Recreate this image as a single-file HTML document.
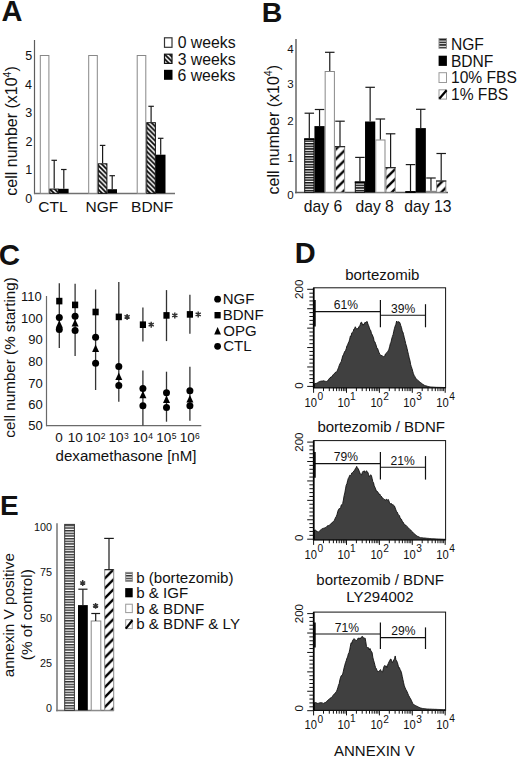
<!DOCTYPE html>
<html><head><meta charset="utf-8"><style>
html,body{margin:0;padding:0;background:#fff;}
svg{display:block;font-family:"Liberation Sans", sans-serif;}
</style></head><body>
<svg width="520" height="759" viewBox="0 0 520 759">
<rect width="520" height="759" fill="#fff"/>
<defs>
<pattern id="hA" patternUnits="userSpaceOnUse" width="4.8" height="4.8" patternTransform="rotate(0)">
<rect width="4.8" height="4.8" fill="#fff"/>
<path d="M-1.2,-1.2 L6,6 M-1.2,3.6 L1.2,6 M3.6,-1.2 L6,1.2" stroke="#000" stroke-width="1.8"/>
</pattern>
<pattern id="dB" patternUnits="userSpaceOnUse" width="9.9" height="9.9">
<rect width="9.9" height="9.9" fill="#fff"/>
<path d="M-2,11.9 L11.9,-2 M-2,2 L2,-2 M7.9,11.9 L11.9,7.9" stroke="#000" stroke-width="2.3"/>
</pattern>
<pattern id="hs" patternUnits="userSpaceOnUse" width="10" height="2.6">
<rect width="10" height="2.6" fill="#fff"/>
<rect y="0" width="10" height="1.5" fill="#111"/>
</pattern>
<pattern id="hsE" patternUnits="userSpaceOnUse" width="10" height="2.65">
<rect width="10" height="2.65" fill="#fff"/>
<rect y="0" width="10" height="1.45" fill="#333"/>
</pattern>
</defs>
<text x="1.6" y="20.8" font-size="29" font-weight="bold" fill="#111">A</text>
<line x1="34.5" y1="40" x2="34.5" y2="194.1" stroke="#5c5c5c" stroke-width="1.2"/>
<line x1="34" y1="193.5" x2="175" y2="193.5" stroke="#707070" stroke-width="1.3"/>
<text x="25.27" y="60.24" font-size="12.5" fill="#111">5</text>
<text x="25.11" y="88.75" font-size="12.5" fill="#111">4</text>
<text x="25.3" y="117.2" font-size="12.5" fill="#111">3</text>
<text x="25.38" y="145.71" font-size="12.5" fill="#111">2</text>
<text x="25.36" y="174.1" font-size="12.5" fill="#111">1</text>
<text x="25.24" y="202.55" font-size="12.5" fill="#111">0</text>
<rect x="40.3" y="55.5" width="8.6" height="137.8" fill="#fff" stroke="#888" stroke-width="1"/>
<rect x="49.9" y="189.1" width="8.6" height="4.2" fill="url(#hA)" stroke="#111" stroke-width="1"/>
<line x1="54.2" y1="188.6" x2="54.2" y2="160.3" stroke="#1a1a1a" stroke-width="1.2"/>
<line x1="51.45" y1="160.3" x2="56.95" y2="160.3" stroke="#1a1a1a" stroke-width="1.2"/>
<rect x="59" y="188.8" width="9.6" height="4.5" fill="#000"/>
<line x1="63.8" y1="188.8" x2="63.8" y2="169.5" stroke="#1a1a1a" stroke-width="1.2"/>
<line x1="61.05" y1="169.5" x2="66.55" y2="169.5" stroke="#1a1a1a" stroke-width="1.2"/>
<rect x="88.7" y="55.5" width="8.6" height="137.8" fill="#fff" stroke="#888" stroke-width="1"/>
<rect x="98.3" y="163.8" width="8.6" height="29.5" fill="url(#hA)" stroke="#111" stroke-width="1"/>
<line x1="102.6" y1="163.3" x2="102.6" y2="145.4" stroke="#1a1a1a" stroke-width="1.2"/>
<line x1="99.85" y1="145.4" x2="105.35" y2="145.4" stroke="#1a1a1a" stroke-width="1.2"/>
<rect x="107.4" y="189.2" width="9.6" height="4.1" fill="#000"/>
<line x1="112.2" y1="189.2" x2="112.2" y2="175.7" stroke="#1a1a1a" stroke-width="1.2"/>
<line x1="109.45" y1="175.7" x2="114.95" y2="175.7" stroke="#1a1a1a" stroke-width="1.2"/>
<rect x="137.2" y="55.5" width="8.6" height="137.8" fill="#fff" stroke="#888" stroke-width="1"/>
<rect x="146.8" y="122.7" width="8.6" height="70.6" fill="url(#hA)" stroke="#111" stroke-width="1"/>
<line x1="151.1" y1="122.2" x2="151.1" y2="106.3" stroke="#1a1a1a" stroke-width="1.2"/>
<line x1="148.35" y1="106.3" x2="153.85" y2="106.3" stroke="#1a1a1a" stroke-width="1.2"/>
<rect x="155.9" y="154.7" width="9.6" height="38.6" fill="#000"/>
<line x1="160.7" y1="154.7" x2="160.7" y2="138.3" stroke="#1a1a1a" stroke-width="1.2"/>
<line x1="157.95" y1="138.3" x2="163.45" y2="138.3" stroke="#1a1a1a" stroke-width="1.2"/>
<text x="38.32" y="211.85" font-size="15.5" fill="#111">CTL</text>
<text x="85.62" y="211.85" font-size="15.5" fill="#111">NGF</text>
<text x="131.08" y="212" font-size="15.5" fill="#111">BDNF</text>
<rect x="164.5" y="37.8" width="7.5" height="9.5" fill="#fff" stroke="#333" stroke-width="1.2"/>
<rect x="164.5" y="54.2" width="7.5" height="9.2" fill="url(#hA)" stroke="#111" stroke-width="1.2"/>
<rect x="164" y="69.8" width="8.5" height="10" fill="#000"/>
<text x="177.68" y="48.15" font-size="15.8" fill="#111">0 weeks</text>
<text x="177.7" y="64.75" font-size="15.8" fill="#111">3 weeks</text>
<text x="177.5" y="81.15" font-size="15.8" fill="#111">6 weeks</text>
<text transform="translate(17.3,195.68) rotate(-90)" font-size="16" fill="#111">cell number (x10<tspan dy="-6.3" font-size="10.5">4</tspan><tspan dy="6.3">)</tspan></text>
<text x="261.85" y="21.6" font-size="28.5" font-weight="bold" fill="#111">B</text>
<line x1="296" y1="39" x2="296" y2="193.3" stroke="#8c8c8c" stroke-width="2"/>
<line x1="295" y1="192.5" x2="448" y2="192.5" stroke="#5a5a5a" stroke-width="1.3"/>
<text x="293.6" y="52.9" font-size="11.5" text-anchor="end" fill="#111">4</text>
<text x="293.6" y="88.3" font-size="11.5" text-anchor="end" fill="#111">3</text>
<text x="293.6" y="125.1" font-size="11.5" text-anchor="end" fill="#111">2</text>
<text x="293.6" y="162" font-size="11.5" text-anchor="end" fill="#111">1</text>
<text x="293.6" y="198.8" font-size="11.5" text-anchor="end" fill="#111">0</text>
<rect x="304.7" y="138.9" width="9.23" height="53.4" fill="url(#hs)" stroke="#111" stroke-width="1"/>
<line x1="304.2" y1="139.2" x2="314.43" y2="139.2" stroke="#000" stroke-width="1.6"/>
<line x1="309.31" y1="138.4" x2="309.31" y2="113.2" stroke="#1a1a1a" stroke-width="1.2"/>
<line x1="304.56" y1="113.2" x2="314.06" y2="113.2" stroke="#1a1a1a" stroke-width="1.2"/>
<rect x="314.43" y="126.1" width="10.23" height="66.2" fill="#000"/>
<line x1="319.55" y1="126.1" x2="319.55" y2="109.5" stroke="#1a1a1a" stroke-width="1.2"/>
<line x1="314.8" y1="109.5" x2="324.3" y2="109.5" stroke="#1a1a1a" stroke-width="1.2"/>
<rect x="325.16" y="71.5" width="9.23" height="120.8" fill="#fff" stroke="#888" stroke-width="1"/>
<line x1="329.77" y1="71" x2="329.77" y2="52.3" stroke="#1a1a1a" stroke-width="1.2"/>
<line x1="325.02" y1="52.3" x2="334.52" y2="52.3" stroke="#1a1a1a" stroke-width="1.2"/>
<rect x="335.39" y="146.7" width="9.23" height="45.6" fill="url(#dB)" stroke="#888" stroke-width="1"/>
<line x1="334.89" y1="146.7" x2="345.12" y2="146.7" stroke="#111" stroke-width="1"/>
<line x1="340" y1="146.2" x2="340" y2="121.2" stroke="#1a1a1a" stroke-width="1.2"/>
<line x1="335.25" y1="121.2" x2="344.75" y2="121.2" stroke="#1a1a1a" stroke-width="1.2"/>
<rect x="355.3" y="182" width="9.23" height="10.3" fill="url(#hs)" stroke="#111" stroke-width="1"/>
<line x1="354.8" y1="182.3" x2="365.03" y2="182.3" stroke="#000" stroke-width="1.6"/>
<line x1="359.92" y1="181.5" x2="359.92" y2="157.4" stroke="#1a1a1a" stroke-width="1.2"/>
<line x1="355.17" y1="157.4" x2="364.67" y2="157.4" stroke="#1a1a1a" stroke-width="1.2"/>
<rect x="365.03" y="121.5" width="10.23" height="70.8" fill="#000"/>
<line x1="370.15" y1="121.5" x2="370.15" y2="87.3" stroke="#1a1a1a" stroke-width="1.2"/>
<line x1="365.4" y1="87.3" x2="374.9" y2="87.3" stroke="#1a1a1a" stroke-width="1.2"/>
<rect x="375.76" y="140" width="9.23" height="52.3" fill="#fff" stroke="#888" stroke-width="1"/>
<line x1="380.38" y1="139.5" x2="380.38" y2="119" stroke="#1a1a1a" stroke-width="1.2"/>
<line x1="375.62" y1="119" x2="385.12" y2="119" stroke="#1a1a1a" stroke-width="1.2"/>
<rect x="385.99" y="167.7" width="9.23" height="24.6" fill="url(#dB)" stroke="#888" stroke-width="1"/>
<line x1="385.49" y1="167.7" x2="395.72" y2="167.7" stroke="#111" stroke-width="1"/>
<line x1="390.61" y1="167.2" x2="390.61" y2="133.8" stroke="#1a1a1a" stroke-width="1.2"/>
<line x1="385.86" y1="133.8" x2="395.36" y2="133.8" stroke="#1a1a1a" stroke-width="1.2"/>
<rect x="405.9" y="191.7" width="9.23" height="0.6" fill="url(#hs)" stroke="#111" stroke-width="1"/>
<line x1="405.4" y1="192" x2="415.63" y2="192" stroke="#000" stroke-width="1.6"/>
<line x1="410.51" y1="191.2" x2="410.51" y2="164.6" stroke="#1a1a1a" stroke-width="1.2"/>
<line x1="405.76" y1="164.6" x2="415.26" y2="164.6" stroke="#1a1a1a" stroke-width="1.2"/>
<rect x="415.63" y="128.1" width="10.23" height="64.2" fill="#000"/>
<line x1="420.75" y1="128.1" x2="420.75" y2="109.3" stroke="#1a1a1a" stroke-width="1.2"/>
<line x1="416" y1="109.3" x2="425.5" y2="109.3" stroke="#1a1a1a" stroke-width="1.2"/>
<rect x="426.36" y="191.3" width="9.23" height="1" fill="#fff" stroke="#888" stroke-width="1"/>
<line x1="430.97" y1="190.8" x2="430.97" y2="178" stroke="#1a1a1a" stroke-width="1.2"/>
<line x1="426.22" y1="178" x2="435.72" y2="178" stroke="#1a1a1a" stroke-width="1.2"/>
<rect x="436.59" y="181" width="9.23" height="11.3" fill="url(#dB)" stroke="#888" stroke-width="1"/>
<line x1="436.09" y1="181" x2="446.32" y2="181" stroke="#111" stroke-width="1"/>
<line x1="441.2" y1="180.5" x2="441.2" y2="153.5" stroke="#1a1a1a" stroke-width="1.2"/>
<line x1="436.45" y1="153.5" x2="445.95" y2="153.5" stroke="#1a1a1a" stroke-width="1.2"/>
<text x="303.86" y="211.9" font-size="15.7" fill="#111">day 6</text>
<text x="355.46" y="211.9" font-size="15.7" fill="#111">day 8</text>
<text x="404.3" y="211.9" font-size="15.7" fill="#111">day 13</text>
<rect x="439" y="38.6" width="7.5" height="9.6" fill="url(#hs)" stroke="#888" stroke-width="1"/>
<rect x="438.6" y="55.7" width="8.3" height="10.2" fill="#000"/>
<rect x="439" y="72.7" width="7.5" height="9.8" fill="#fff" stroke="#999" stroke-width="1"/>
<rect x="439" y="89.8" width="7.5" height="9.3" fill="#fff" stroke="#999" stroke-width="1"/>
<line x1="439.3" y1="98.8" x2="446.6" y2="90.2" stroke="#000" stroke-width="2.2"/>
<text x="450.92" y="50.05" font-size="15.6" fill="#111">NGF</text>
<text x="450.92" y="66.9" font-size="15.6" fill="#111">BDNF</text>
<text x="451.01" y="83.25" font-size="15.6" fill="#111">10% FBS</text>
<text x="451.01" y="100.25" font-size="15.6" fill="#111">1% FBS</text>
<text transform="translate(278.7,194.48) rotate(-90)" font-size="16" fill="#111">cell number (x10<tspan dy="-6.3" font-size="10.5">4</tspan><tspan dy="6.3">)</tspan></text>
<text x="-1.25" y="264.81" font-size="29.5" font-weight="bold" fill="#111">C</text>
<line x1="46.5" y1="296" x2="46.5" y2="426.2" stroke="#6a6a6a" stroke-width="1.2"/>
<line x1="46" y1="425.6" x2="201.3" y2="425.6" stroke="#6a6a6a" stroke-width="1.2"/>
<text x="21.02" y="301.38" font-size="13" fill="#111">110</text>
<text x="21.02" y="322.68" font-size="13" fill="#111">100</text>
<text x="28.25" y="343.98" font-size="13" fill="#111">90</text>
<text x="28.25" y="366.38" font-size="13" fill="#111">80</text>
<text x="28.25" y="387.68" font-size="13" fill="#111">70</text>
<text x="28.25" y="408.98" font-size="13" fill="#111">60</text>
<text x="28.25" y="430.28" font-size="13" fill="#111">50</text>
<line x1="59.3" y1="283.2" x2="59.3" y2="347.9" stroke="#333" stroke-width="1.3"/>
<rect x="56.2" y="297.8" width="6.2" height="6.6" fill="#000"/>
<circle cx="59.3" cy="317.5" r="3.5" fill="#000"/>
<path d="M59.3,320.2 L62.8,327.7 L55.8,327.7 Z" fill="#000"/>
<circle cx="59.3" cy="329.5" r="3.5" fill="#000"/>
<line x1="75.1" y1="283.8" x2="75.1" y2="355.9" stroke="#333" stroke-width="1.3"/>
<rect x="72" y="301.6" width="6.2" height="6.6" fill="#000"/>
<circle cx="75.1" cy="316.3" r="3.5" fill="#000"/>
<path d="M75.1,319.1 L78.6,326.6 L71.6,326.6 Z" fill="#000"/>
<circle cx="75.1" cy="330.6" r="3.5" fill="#000"/>
<line x1="95.6" y1="289.5" x2="95.6" y2="390" stroke="#333" stroke-width="1.3"/>
<rect x="92.5" y="308.7" width="6.2" height="6.6" fill="#000"/>
<circle cx="95.6" cy="337.3" r="3.5" fill="#000"/>
<path d="M95.6,344.4 L99.1,351.9 L92.1,351.9 Z" fill="#000"/>
<circle cx="95.6" cy="363.3" r="3.5" fill="#000"/>
<line x1="118.8" y1="282.1" x2="118.8" y2="401.8" stroke="#333" stroke-width="1.3"/>
<rect x="115.7" y="313.6" width="6.2" height="6.6" fill="#000"/>
<path d="M127.1,313.9V319.9M124.5,315.4L129.7,318.4M124.5,318.4L129.7,315.4" stroke="#333" stroke-width="1.45" fill="none"/>
<circle cx="118.8" cy="366.4" r="3.5" fill="#000"/>
<path d="M118.8,372.4 L122.3,379.9 L115.3,379.9 Z" fill="#000"/>
<circle cx="118.8" cy="385.4" r="3.5" fill="#000"/>
<line x1="142.9" y1="307.4" x2="142.9" y2="341.6" stroke="#333" stroke-width="1.3"/>
<line x1="142.9" y1="370.6" x2="142.9" y2="425.4" stroke="#333" stroke-width="1.3"/>
<rect x="139.8" y="321.4" width="6.2" height="6.6" fill="#000"/>
<path d="M151.2,321.7V327.7M148.6,323.2L153.8,326.2M148.6,326.2L153.8,323.2" stroke="#333" stroke-width="1.45" fill="none"/>
<circle cx="142.9" cy="388.6" r="3.5" fill="#000"/>
<path d="M142.9,390.8 L146.4,398.3 L139.4,398.3 Z" fill="#000"/>
<circle cx="142.9" cy="405.8" r="3.5" fill="#000"/>
<line x1="166.5" y1="290.1" x2="166.5" y2="341.1" stroke="#333" stroke-width="1.3"/>
<line x1="166.5" y1="371.7" x2="166.5" y2="421.7" stroke="#333" stroke-width="1.3"/>
<rect x="163.4" y="312.1" width="6.2" height="6.6" fill="#000"/>
<path d="M174.8,312.4V318.4M172.2,313.9L177.4,316.9M172.2,316.9L177.4,313.9" stroke="#333" stroke-width="1.45" fill="none"/>
<circle cx="166.5" cy="392.8" r="3.5" fill="#000"/>
<path d="M166.5,395.6 L170,403.1 L163,403.1 Z" fill="#000"/>
<circle cx="166.5" cy="407.5" r="3.5" fill="#000"/>
<line x1="189.9" y1="294.8" x2="189.9" y2="333.8" stroke="#333" stroke-width="1.3"/>
<line x1="189.9" y1="366.8" x2="189.9" y2="420.8" stroke="#333" stroke-width="1.3"/>
<rect x="186.8" y="311.1" width="6.2" height="6.6" fill="#000"/>
<path d="M198.2,311.4V317.4M195.6,312.9L200.8,315.9M195.6,315.9L200.8,312.9" stroke="#333" stroke-width="1.45" fill="none"/>
<circle cx="189.9" cy="390.7" r="3.5" fill="#000"/>
<path d="M189.9,395 L193.4,402.5 L186.4,402.5 Z" fill="#000"/>
<circle cx="189.9" cy="405.8" r="3.5" fill="#000"/>
<text x="55.35" y="442.07" font-size="13.5" fill="#111">0</text>
<text x="67.64" y="442.07" font-size="13.5" fill="#111">10</text>
<text x="85.41" y="442.07" font-size="13.5" fill="#111">10</text>
<text x="100.67" y="439.24" font-size="8.5" fill="#111">2</text>
<text x="108.61" y="442.07" font-size="13.5" fill="#111">10</text>
<text x="123.98" y="439.24" font-size="8.5" fill="#111">3</text>
<text x="132.71" y="442.07" font-size="13.5" fill="#111">10</text>
<text x="148.2" y="439.15" font-size="8.5" fill="#111">4</text>
<text x="156.31" y="442.07" font-size="13.5" fill="#111">10</text>
<text x="171.66" y="439.15" font-size="8.5" fill="#111">5</text>
<text x="179.71" y="442.07" font-size="13.5" fill="#111">10</text>
<text x="194.97" y="439.24" font-size="8.5" fill="#111">6</text>
<text x="55.57" y="460.6" font-size="15.1" fill="#111">dexamethasone [nM]</text>
<circle cx="217.6" cy="299.2" r="3.4" fill="#000"/>
<rect x="214.5" y="312" width="6.2" height="6.4" fill="#000"/>
<path d="M217.6,327.1 L221,334.6 L214.2,334.6 Z" fill="#000"/>
<circle cx="217.6" cy="346.3" r="3.4" fill="#000"/>
<text x="222.77" y="304.36" font-size="15" fill="#111">NGF</text>
<text x="222.77" y="320.36" font-size="15" fill="#111">BDNF</text>
<text x="223.29" y="336.16" font-size="15" fill="#111">OPG</text>
<text x="223.24" y="351.46" font-size="15" fill="#111">CTL</text>
<text transform="translate(15.3,437.65) rotate(-90)" font-size="15.2" fill="#111">cell number (% starting)</text>
<text x="294.82" y="262.7" font-size="29" font-weight="bold" fill="#111">D</text>
<path d="M314.5,387.8 L314.5,383.6 L316.1,383.56 L316.8,383.08 L317.5,382.8 L318.2,382.19 L318.9,381.92 L319.6,381.52 L320.3,381.28 L321,381.33 L321.7,381.02 L322.4,381.06 L323.1,380.79 L323.8,380.8 L324.5,381.08 L325.2,381.39 L325.9,381.26 L326.6,381.45 L327.3,381.04 L328,380.34 L328.7,379.32 L329.4,378.36 L330.1,378.12 L330.8,377 L331.5,376.98 L332.2,376.05 L332.9,375.08 L333.6,374.18 L334.3,373.47 L335,373.11 L335.7,372.04 L336.4,371.93 L337.1,371.17 L337.8,369.24 L338.5,367.8 L339.2,365.56 L339.9,363.95 L340.6,362.56 L341.3,361.38 L342,358.62 L342.7,356.05 L343.4,354.75 L344.1,353.05 L344.8,351.28 L345.5,350.73 L346.2,348.79 L346.9,345.97 L347.6,345.03 L348.3,342.86 L349,341.6 L349.7,339.15 L350.4,335.99 L351.1,336.28 L351.8,332.84 L352.5,332.18 L353.2,331.65 L353.9,329 L354.6,328.62 L355.3,326.75 L356,328.44 L356.7,328.85 L357.4,328.57 L358.1,329 L358.8,326.7 L359.5,326.67 L360.2,324.76 L360.9,322.52 L361.6,322.24 L362.3,324.06 L363,325.21 L363.7,324.01 L364.4,324.01 L365.1,322.11 L365.8,322.77 L366.5,321.7 L367.2,321.58 L367.9,324.08 L368.6,325.54 L369.3,327.58 L370,330.06 L370.7,330.32 L371.4,333.23 L372.1,334.38 L372.8,336.12 L373.5,337.87 L374.2,341.46 L374.9,341.75 L375.6,343.78 L376.3,345.86 L377,348.75 L377.7,348.55 L378.4,351.01 L379.1,352.72 L379.8,354.21 L380.5,354.87 L381.2,355.73 L381.9,355.32 L382.6,356.32 L383.3,356.54 L384,356.83 L384.7,356.29 L385.4,354.01 L386.1,353.34 L386.8,352.75 L387.5,351.9 L388.2,350.76 L388.9,349.34 L389.6,346.78 L390.3,343.71 L391,342.17 L391.7,339.02 L392.4,336.46 L393.1,334.59 L393.8,331.16 L394.5,328.24 L395.2,325.98 L395.9,324.32 L396.6,321.03 L397.3,322.41 L398,321.47 L398.7,321.9 L399.4,322.06 L400.1,323.28 L400.8,325.8 L401.5,327.48 L402.2,331.12 L402.9,332.11 L403.6,334.78 L404.3,337.82 L405,340.42 L405.7,343.66 L406.4,345.84 L407.1,348.64 L407.8,351.89 L408.5,354.68 L409.2,358.05 L409.9,360.29 L410.6,364.33 L411.3,366.67 L412,368.66 L412.7,371.18 L413.4,373.66 L414.1,375.37 L414.8,376.38 L415.5,378.01 L416.2,378.97 L416.9,379.38 L417.6,380.09 L418.3,380.63 L419,381.27 L419.7,381.89 L420.4,382.4 L421.1,383.09 L421.8,383.43 L422.5,383.92 L423.2,384.62 L423.9,385.04 L424.6,385.41 L425.3,385.66 L426,385.8 L426.7,386.06 L427.4,386.29 L428.1,386.45 L428.8,386.6 L429.5,386.74 L430.2,386.9 L430.9,386.94 L431.6,387.02 L432.3,387.06 L433,387.12 L433.7,387.15 L434.4,387.19 L435.1,387.26 L435.8,387.31 L436.5,387.33 L437.2,387.34 L437.9,387.36 L438.6,387.37 L439.3,387.38 L440,387.4 L440.7,387.42 L441.4,387.43 L442.1,387.44 L442.8,387.47 L443.5,387.48 L445.1,387.5 L445.1,387.8 Z" fill="#404040" stroke="#111" stroke-width="0.9" stroke-linejoin="bevel"/>
<rect x="313.7" y="287.8" width="131.9" height="100" fill="none" stroke="#111" stroke-width="1"/>
<line x1="313.7" y1="287.8" x2="313.7" y2="388.3" stroke="#000" stroke-width="1.7"/>
<line x1="307.2" y1="289.3" x2="313.7" y2="289.3" stroke="#111" stroke-width="1"/>
<line x1="309.4" y1="293.18" x2="313.7" y2="293.18" stroke="#111" stroke-width="1"/>
<line x1="309.4" y1="297.07" x2="313.7" y2="297.07" stroke="#111" stroke-width="1"/>
<line x1="309.4" y1="300.95" x2="313.7" y2="300.95" stroke="#111" stroke-width="1"/>
<line x1="309.4" y1="304.84" x2="313.7" y2="304.84" stroke="#111" stroke-width="1"/>
<line x1="307.2" y1="308.72" x2="313.7" y2="308.72" stroke="#111" stroke-width="1"/>
<line x1="309.4" y1="312.6" x2="313.7" y2="312.6" stroke="#111" stroke-width="1"/>
<line x1="309.4" y1="316.49" x2="313.7" y2="316.49" stroke="#111" stroke-width="1"/>
<line x1="309.4" y1="320.37" x2="313.7" y2="320.37" stroke="#111" stroke-width="1"/>
<line x1="309.4" y1="324.26" x2="313.7" y2="324.26" stroke="#111" stroke-width="1"/>
<line x1="307.2" y1="328.14" x2="313.7" y2="328.14" stroke="#111" stroke-width="1"/>
<line x1="309.4" y1="332.02" x2="313.7" y2="332.02" stroke="#111" stroke-width="1"/>
<line x1="309.4" y1="335.91" x2="313.7" y2="335.91" stroke="#111" stroke-width="1"/>
<line x1="309.4" y1="339.79" x2="313.7" y2="339.79" stroke="#111" stroke-width="1"/>
<line x1="309.4" y1="343.68" x2="313.7" y2="343.68" stroke="#111" stroke-width="1"/>
<line x1="307.2" y1="347.56" x2="313.7" y2="347.56" stroke="#111" stroke-width="1"/>
<line x1="309.4" y1="351.44" x2="313.7" y2="351.44" stroke="#111" stroke-width="1"/>
<line x1="309.4" y1="355.33" x2="313.7" y2="355.33" stroke="#111" stroke-width="1"/>
<line x1="309.4" y1="359.21" x2="313.7" y2="359.21" stroke="#111" stroke-width="1"/>
<line x1="309.4" y1="363.1" x2="313.7" y2="363.1" stroke="#111" stroke-width="1"/>
<line x1="307.2" y1="366.98" x2="313.7" y2="366.98" stroke="#111" stroke-width="1"/>
<line x1="309.4" y1="370.86" x2="313.7" y2="370.86" stroke="#111" stroke-width="1"/>
<line x1="309.4" y1="374.75" x2="313.7" y2="374.75" stroke="#111" stroke-width="1"/>
<line x1="309.4" y1="378.63" x2="313.7" y2="378.63" stroke="#111" stroke-width="1"/>
<line x1="309.4" y1="382.52" x2="313.7" y2="382.52" stroke="#111" stroke-width="1"/>
<line x1="307.2" y1="386.4" x2="313.7" y2="386.4" stroke="#111" stroke-width="1"/>
<line x1="313.6" y1="387.8" x2="313.6" y2="392.8" stroke="#111" stroke-width="1"/>
<line x1="323.5" y1="387.8" x2="323.5" y2="391.1" stroke="#111" stroke-width="1"/>
<line x1="329.3" y1="387.8" x2="329.3" y2="391.1" stroke="#111" stroke-width="1"/>
<line x1="333.41" y1="387.8" x2="333.41" y2="391.1" stroke="#111" stroke-width="1"/>
<line x1="336.6" y1="387.8" x2="336.6" y2="391.1" stroke="#111" stroke-width="1"/>
<line x1="339.2" y1="387.8" x2="339.2" y2="391.1" stroke="#111" stroke-width="1"/>
<line x1="341.4" y1="387.8" x2="341.4" y2="391.1" stroke="#111" stroke-width="1"/>
<line x1="343.31" y1="387.8" x2="343.31" y2="391.1" stroke="#111" stroke-width="1"/>
<line x1="344.99" y1="387.8" x2="344.99" y2="391.1" stroke="#111" stroke-width="1"/>
<text transform="translate(304.58,406.68) scale(1,1.12)" font-size="11.2" fill="#111">10</text>
<text transform="translate(317.5,399.98) scale(1,1.12)" font-size="10.2" fill="#111">0</text>
<line x1="346.5" y1="387.8" x2="346.5" y2="392.8" stroke="#111" stroke-width="1"/>
<line x1="356.4" y1="387.8" x2="356.4" y2="391.1" stroke="#111" stroke-width="1"/>
<line x1="362.2" y1="387.8" x2="362.2" y2="391.1" stroke="#111" stroke-width="1"/>
<line x1="366.31" y1="387.8" x2="366.31" y2="391.1" stroke="#111" stroke-width="1"/>
<line x1="369.5" y1="387.8" x2="369.5" y2="391.1" stroke="#111" stroke-width="1"/>
<line x1="372.1" y1="387.8" x2="372.1" y2="391.1" stroke="#111" stroke-width="1"/>
<line x1="374.3" y1="387.8" x2="374.3" y2="391.1" stroke="#111" stroke-width="1"/>
<line x1="376.21" y1="387.8" x2="376.21" y2="391.1" stroke="#111" stroke-width="1"/>
<line x1="377.89" y1="387.8" x2="377.89" y2="391.1" stroke="#111" stroke-width="1"/>
<text transform="translate(337.48,406.68) scale(1,1.12)" font-size="11.2" fill="#111">10</text>
<text transform="translate(350.02,399.86) scale(1,1.12)" font-size="10.2" fill="#111">1</text>
<line x1="379.4" y1="387.8" x2="379.4" y2="392.8" stroke="#111" stroke-width="1"/>
<line x1="389.3" y1="387.8" x2="389.3" y2="391.1" stroke="#111" stroke-width="1"/>
<line x1="395.1" y1="387.8" x2="395.1" y2="391.1" stroke="#111" stroke-width="1"/>
<line x1="399.21" y1="387.8" x2="399.21" y2="391.1" stroke="#111" stroke-width="1"/>
<line x1="402.4" y1="387.8" x2="402.4" y2="391.1" stroke="#111" stroke-width="1"/>
<line x1="405" y1="387.8" x2="405" y2="391.1" stroke="#111" stroke-width="1"/>
<line x1="407.2" y1="387.8" x2="407.2" y2="391.1" stroke="#111" stroke-width="1"/>
<line x1="409.11" y1="387.8" x2="409.11" y2="391.1" stroke="#111" stroke-width="1"/>
<line x1="410.79" y1="387.8" x2="410.79" y2="391.1" stroke="#111" stroke-width="1"/>
<text transform="translate(370.38,406.68) scale(1,1.12)" font-size="11.2" fill="#111">10</text>
<text transform="translate(383.19,399.98) scale(1,1.12)" font-size="10.2" fill="#111">2</text>
<line x1="412.3" y1="387.8" x2="412.3" y2="392.8" stroke="#111" stroke-width="1"/>
<line x1="422.2" y1="387.8" x2="422.2" y2="391.1" stroke="#111" stroke-width="1"/>
<line x1="428" y1="387.8" x2="428" y2="391.1" stroke="#111" stroke-width="1"/>
<line x1="432.11" y1="387.8" x2="432.11" y2="391.1" stroke="#111" stroke-width="1"/>
<line x1="435.3" y1="387.8" x2="435.3" y2="391.1" stroke="#111" stroke-width="1"/>
<line x1="437.9" y1="387.8" x2="437.9" y2="391.1" stroke="#111" stroke-width="1"/>
<line x1="440.1" y1="387.8" x2="440.1" y2="391.1" stroke="#111" stroke-width="1"/>
<line x1="442.01" y1="387.8" x2="442.01" y2="391.1" stroke="#111" stroke-width="1"/>
<line x1="443.69" y1="387.8" x2="443.69" y2="391.1" stroke="#111" stroke-width="1"/>
<text transform="translate(403.28,406.68) scale(1,1.12)" font-size="11.2" fill="#111">10</text>
<text transform="translate(416.21,399.98) scale(1,1.12)" font-size="10.2" fill="#111">3</text>
<line x1="445.2" y1="387.8" x2="445.2" y2="392.8" stroke="#111" stroke-width="1"/>
<text transform="translate(436.18,406.68) scale(1,1.12)" font-size="11.2" fill="#111">10</text>
<text transform="translate(449.27,399.86) scale(1,1.12)" font-size="10.2" fill="#111">4</text>
<text transform="translate(303.3,289.3) rotate(-90)" font-size="11.5" text-anchor="middle" fill="#111">200</text>
<text transform="translate(303.3,385.6) rotate(-90)" font-size="11.5" text-anchor="middle" fill="#111">0</text>
<line x1="314.7" y1="311.6" x2="380.4" y2="311.6" stroke="#111" stroke-width="1.1"/>
<line x1="314.9" y1="300.1" x2="314.9" y2="326.4" stroke="#000" stroke-width="1.6"/>
<line x1="380.4" y1="300.1" x2="380.4" y2="327.3" stroke="#111" stroke-width="1.2"/>
<line x1="380.4" y1="315.3" x2="425.5" y2="315.3" stroke="#111" stroke-width="1.1"/>
<line x1="425.5" y1="304.2" x2="425.5" y2="327.3" stroke="#111" stroke-width="1.2"/>
<text x="333.8" y="309.38" font-size="12.1" fill="#111">61%</text>
<text x="390.98" y="312.88" font-size="12.1" fill="#111">39%</text>
<text x="345.13" y="279.85" font-size="15" fill="#111">bortezomib</text>
<path d="M314.5,539.9 L314.5,530 L315.4,530.11 L316.1,530.78 L316.8,531.01 L317.5,531.77 L318.2,532.16 L318.9,531.64 L319.6,530.82 L320.3,530.21 L321,529.69 L321.7,529.14 L322.4,528.62 L323.1,528.38 L323.8,528.21 L324.5,527.99 L325.2,527.54 L325.9,527.49 L326.6,527.13 L327.3,525.86 L328,525.64 L328.7,525.49 L329.4,525.13 L330.1,524.86 L330.8,523.98 L331.5,522.98 L332.2,522.9 L332.9,521.72 L333.6,521.3 L334.3,520.57 L335,518.83 L335.7,517.19 L336.4,516.32 L337.1,514.28 L337.8,511.37 L338.5,509.53 L339.2,508.49 L339.9,508.84 L340.6,507.61 L341.3,504.97 L342,504.75 L342.7,503.49 L343.4,500.02 L344.1,495.67 L344.8,492.94 L345.5,488.89 L346.2,485.16 L346.9,483.85 L347.6,480.76 L348.3,478.36 L349,477.24 L349.7,475.31 L350.4,475.62 L351.1,474.82 L351.8,472.91 L352.5,472.58 L353.2,472.13 L353.9,470.82 L354.6,470.46 L355.3,468.55 L356,467.99 L356.7,466.35 L357.4,468.3 L358.1,468.4 L358.8,470.08 L359.5,471.8 L360.2,473.97 L360.9,474.21 L361.6,474.85 L362.3,472.52 L363,471.26 L363.7,471.36 L364.4,470.84 L365.1,472.56 L365.8,471.62 L366.5,470.7 L367.2,472.12 L367.9,472.29 L368.6,474.7 L369.3,476.67 L370,475.78 L370.7,474.73 L371.4,475.62 L372.1,478.4 L372.8,481.65 L373.5,482.56 L374.2,485.79 L374.9,487.18 L375.6,488.86 L376.3,490.99 L377,491.06 L377.7,491.8 L378.4,493.02 L379.1,494.31 L379.8,494.1 L380.5,495.44 L381.2,496.11 L381.9,497.06 L382.6,498.36 L383.3,498.49 L384,499.38 L384.7,499.62 L385.4,500.29 L386.1,499.26 L386.8,499.41 L387.5,500.3 L388.2,499.4 L388.9,500.91 L389.6,502.94 L390.3,503.85 L391,503.39 L391.7,503.81 L392.4,504.93 L393.1,504.62 L393.8,505.71 L394.5,506.12 L395.2,508.03 L395.9,509.89 L396.6,511.72 L397.3,512.14 L398,514.15 L398.7,515.17 L399.4,515.53 L400.1,517.75 L400.8,519.03 L401.5,519.29 L402.2,521.32 L402.9,521.86 L403.6,523.12 L404.3,524.37 L405,524.91 L405.7,525 L406.4,525.94 L407.1,526.71 L407.8,527.28 L408.5,527.88 L409.2,528.68 L409.9,529.64 L410.6,529.92 L411.3,530.93 L412,531.57 L412.7,532.08 L413.4,532.93 L414.1,533.75 L414.8,534.29 L415.5,534.66 L416.2,535.44 L416.9,535.88 L417.6,536.36 L418.3,536.56 L419,536.97 L419.7,537.32 L420.4,537.67 L421.1,537.66 L421.8,537.71 L422.5,537.81 L423.2,537.94 L423.9,537.99 L424.6,537.99 L425.3,538.06 L426,538.21 L426.7,538.25 L427.4,538.33 L428.1,538.35 L428.8,538.43 L429.5,538.55 L430.2,538.6 L430.9,538.61 L431.6,538.71 L432.3,538.72 L433,538.77 L433.7,538.75 L434.4,538.84 L435.1,538.82 L435.8,538.91 L436.5,538.92 L437.2,538.95 L437.9,539 L438.6,539.05 L439.3,539.05 L440,539.08 L440.7,539.14 L441.4,539.16 L442.1,539.19 L442.8,539.23 L443.5,539.26 L445.1,539.3 L445.1,539.9 Z" fill="#404040" stroke="#111" stroke-width="0.9" stroke-linejoin="bevel"/>
<rect x="313.7" y="440.6" width="131.9" height="99.3" fill="none" stroke="#111" stroke-width="1"/>
<line x1="313.7" y1="440.6" x2="313.7" y2="540.4" stroke="#000" stroke-width="1.7"/>
<line x1="307.2" y1="442.1" x2="313.7" y2="442.1" stroke="#111" stroke-width="1"/>
<line x1="309.4" y1="445.98" x2="313.7" y2="445.98" stroke="#111" stroke-width="1"/>
<line x1="309.4" y1="449.87" x2="313.7" y2="449.87" stroke="#111" stroke-width="1"/>
<line x1="309.4" y1="453.75" x2="313.7" y2="453.75" stroke="#111" stroke-width="1"/>
<line x1="309.4" y1="457.64" x2="313.7" y2="457.64" stroke="#111" stroke-width="1"/>
<line x1="307.2" y1="461.52" x2="313.7" y2="461.52" stroke="#111" stroke-width="1"/>
<line x1="309.4" y1="465.4" x2="313.7" y2="465.4" stroke="#111" stroke-width="1"/>
<line x1="309.4" y1="469.29" x2="313.7" y2="469.29" stroke="#111" stroke-width="1"/>
<line x1="309.4" y1="473.17" x2="313.7" y2="473.17" stroke="#111" stroke-width="1"/>
<line x1="309.4" y1="477.06" x2="313.7" y2="477.06" stroke="#111" stroke-width="1"/>
<line x1="307.2" y1="480.94" x2="313.7" y2="480.94" stroke="#111" stroke-width="1"/>
<line x1="309.4" y1="484.82" x2="313.7" y2="484.82" stroke="#111" stroke-width="1"/>
<line x1="309.4" y1="488.71" x2="313.7" y2="488.71" stroke="#111" stroke-width="1"/>
<line x1="309.4" y1="492.59" x2="313.7" y2="492.59" stroke="#111" stroke-width="1"/>
<line x1="309.4" y1="496.48" x2="313.7" y2="496.48" stroke="#111" stroke-width="1"/>
<line x1="307.2" y1="500.36" x2="313.7" y2="500.36" stroke="#111" stroke-width="1"/>
<line x1="309.4" y1="504.24" x2="313.7" y2="504.24" stroke="#111" stroke-width="1"/>
<line x1="309.4" y1="508.13" x2="313.7" y2="508.13" stroke="#111" stroke-width="1"/>
<line x1="309.4" y1="512.01" x2="313.7" y2="512.01" stroke="#111" stroke-width="1"/>
<line x1="309.4" y1="515.9" x2="313.7" y2="515.9" stroke="#111" stroke-width="1"/>
<line x1="307.2" y1="519.78" x2="313.7" y2="519.78" stroke="#111" stroke-width="1"/>
<line x1="309.4" y1="523.66" x2="313.7" y2="523.66" stroke="#111" stroke-width="1"/>
<line x1="309.4" y1="527.55" x2="313.7" y2="527.55" stroke="#111" stroke-width="1"/>
<line x1="309.4" y1="531.43" x2="313.7" y2="531.43" stroke="#111" stroke-width="1"/>
<line x1="309.4" y1="535.32" x2="313.7" y2="535.32" stroke="#111" stroke-width="1"/>
<line x1="307.2" y1="539.2" x2="313.7" y2="539.2" stroke="#111" stroke-width="1"/>
<line x1="313.6" y1="539.9" x2="313.6" y2="544.9" stroke="#111" stroke-width="1"/>
<line x1="323.5" y1="539.9" x2="323.5" y2="543.2" stroke="#111" stroke-width="1"/>
<line x1="329.3" y1="539.9" x2="329.3" y2="543.2" stroke="#111" stroke-width="1"/>
<line x1="333.41" y1="539.9" x2="333.41" y2="543.2" stroke="#111" stroke-width="1"/>
<line x1="336.6" y1="539.9" x2="336.6" y2="543.2" stroke="#111" stroke-width="1"/>
<line x1="339.2" y1="539.9" x2="339.2" y2="543.2" stroke="#111" stroke-width="1"/>
<line x1="341.4" y1="539.9" x2="341.4" y2="543.2" stroke="#111" stroke-width="1"/>
<line x1="343.31" y1="539.9" x2="343.31" y2="543.2" stroke="#111" stroke-width="1"/>
<line x1="344.99" y1="539.9" x2="344.99" y2="543.2" stroke="#111" stroke-width="1"/>
<text transform="translate(304.58,558.78) scale(1,1.12)" font-size="11.2" fill="#111">10</text>
<text transform="translate(317.5,552.08) scale(1,1.12)" font-size="10.2" fill="#111">0</text>
<line x1="346.5" y1="539.9" x2="346.5" y2="544.9" stroke="#111" stroke-width="1"/>
<line x1="356.4" y1="539.9" x2="356.4" y2="543.2" stroke="#111" stroke-width="1"/>
<line x1="362.2" y1="539.9" x2="362.2" y2="543.2" stroke="#111" stroke-width="1"/>
<line x1="366.31" y1="539.9" x2="366.31" y2="543.2" stroke="#111" stroke-width="1"/>
<line x1="369.5" y1="539.9" x2="369.5" y2="543.2" stroke="#111" stroke-width="1"/>
<line x1="372.1" y1="539.9" x2="372.1" y2="543.2" stroke="#111" stroke-width="1"/>
<line x1="374.3" y1="539.9" x2="374.3" y2="543.2" stroke="#111" stroke-width="1"/>
<line x1="376.21" y1="539.9" x2="376.21" y2="543.2" stroke="#111" stroke-width="1"/>
<line x1="377.89" y1="539.9" x2="377.89" y2="543.2" stroke="#111" stroke-width="1"/>
<text transform="translate(337.48,558.78) scale(1,1.12)" font-size="11.2" fill="#111">10</text>
<text transform="translate(350.02,551.96) scale(1,1.12)" font-size="10.2" fill="#111">1</text>
<line x1="379.4" y1="539.9" x2="379.4" y2="544.9" stroke="#111" stroke-width="1"/>
<line x1="389.3" y1="539.9" x2="389.3" y2="543.2" stroke="#111" stroke-width="1"/>
<line x1="395.1" y1="539.9" x2="395.1" y2="543.2" stroke="#111" stroke-width="1"/>
<line x1="399.21" y1="539.9" x2="399.21" y2="543.2" stroke="#111" stroke-width="1"/>
<line x1="402.4" y1="539.9" x2="402.4" y2="543.2" stroke="#111" stroke-width="1"/>
<line x1="405" y1="539.9" x2="405" y2="543.2" stroke="#111" stroke-width="1"/>
<line x1="407.2" y1="539.9" x2="407.2" y2="543.2" stroke="#111" stroke-width="1"/>
<line x1="409.11" y1="539.9" x2="409.11" y2="543.2" stroke="#111" stroke-width="1"/>
<line x1="410.79" y1="539.9" x2="410.79" y2="543.2" stroke="#111" stroke-width="1"/>
<text transform="translate(370.38,558.78) scale(1,1.12)" font-size="11.2" fill="#111">10</text>
<text transform="translate(383.19,552.08) scale(1,1.12)" font-size="10.2" fill="#111">2</text>
<line x1="412.3" y1="539.9" x2="412.3" y2="544.9" stroke="#111" stroke-width="1"/>
<line x1="422.2" y1="539.9" x2="422.2" y2="543.2" stroke="#111" stroke-width="1"/>
<line x1="428" y1="539.9" x2="428" y2="543.2" stroke="#111" stroke-width="1"/>
<line x1="432.11" y1="539.9" x2="432.11" y2="543.2" stroke="#111" stroke-width="1"/>
<line x1="435.3" y1="539.9" x2="435.3" y2="543.2" stroke="#111" stroke-width="1"/>
<line x1="437.9" y1="539.9" x2="437.9" y2="543.2" stroke="#111" stroke-width="1"/>
<line x1="440.1" y1="539.9" x2="440.1" y2="543.2" stroke="#111" stroke-width="1"/>
<line x1="442.01" y1="539.9" x2="442.01" y2="543.2" stroke="#111" stroke-width="1"/>
<line x1="443.69" y1="539.9" x2="443.69" y2="543.2" stroke="#111" stroke-width="1"/>
<text transform="translate(403.28,558.78) scale(1,1.12)" font-size="11.2" fill="#111">10</text>
<text transform="translate(416.21,552.08) scale(1,1.12)" font-size="10.2" fill="#111">3</text>
<line x1="445.2" y1="539.9" x2="445.2" y2="544.9" stroke="#111" stroke-width="1"/>
<text transform="translate(436.18,558.78) scale(1,1.12)" font-size="11.2" fill="#111">10</text>
<text transform="translate(449.27,551.96) scale(1,1.12)" font-size="10.2" fill="#111">4</text>
<text transform="translate(303.3,442.1) rotate(-90)" font-size="11.5" text-anchor="middle" fill="#111">200</text>
<text transform="translate(303.3,537.7) rotate(-90)" font-size="11.5" text-anchor="middle" fill="#111">0</text>
<line x1="314.7" y1="463.6" x2="380.4" y2="463.6" stroke="#111" stroke-width="1.1"/>
<line x1="314.9" y1="451.9" x2="314.9" y2="477.8" stroke="#000" stroke-width="1.6"/>
<line x1="380.4" y1="451.9" x2="380.4" y2="479.6" stroke="#111" stroke-width="1.2"/>
<line x1="380.4" y1="467.3" x2="425.5" y2="467.3" stroke="#111" stroke-width="1.1"/>
<line x1="425.5" y1="456.1" x2="425.5" y2="479.6" stroke="#111" stroke-width="1.2"/>
<text x="333.8" y="461.28" font-size="12.1" fill="#111">79%</text>
<text x="390.6" y="464.73" font-size="12.1" fill="#111">21%</text>
<text x="317.4" y="432.15" font-size="15" fill="#111">bortezomib / BDNF</text>
<path d="M314.5,710.4 L314.5,702.7 L315.4,702.56 L316.1,702.8 L316.8,702.98 L317.5,703.36 L318.2,703.29 L318.9,703.19 L319.6,702.87 L320.3,702.76 L321,702.53 L321.7,702.82 L322.4,702.9 L323.1,703.4 L323.8,703.27 L324.5,702.74 L325.2,702.51 L325.9,702.37 L326.6,701.38 L327.3,701.04 L328,700.09 L328.7,699.4 L329.4,699.09 L330.1,698.26 L330.8,697.82 L331.5,697.45 L332.2,696.82 L332.9,695.4 L333.6,694.97 L334.3,694.01 L335,693.24 L335.7,692.3 L336.4,691.53 L337.1,690 L337.8,687.69 L338.5,685.21 L339.2,683.61 L339.9,679.77 L340.6,677.23 L341.3,675.6 L342,675.74 L342.7,673.89 L343.4,671.12 L344.1,667.85 L344.8,665.15 L345.5,662.57 L346.2,660.85 L346.9,658.24 L347.6,657.04 L348.3,653.9 L349,652.74 L349.7,649.93 L350.4,646.06 L351.1,642.72 L351.8,643.32 L352.5,640.61 L353.2,639.72 L353.9,638.62 L354.6,639.29 L355.3,639.65 L356,640.79 L356.7,640.3 L357.4,640.13 L358.1,638.03 L358.8,638.24 L359.5,638.07 L360.2,639.05 L360.9,637.76 L361.6,636.77 L362.3,636.5 L363,636.83 L363.7,638.75 L364.4,638.21 L365.1,638.09 L365.8,641.84 L366.5,646.72 L367.2,647.81 L367.9,647.33 L368.6,647.86 L369.3,649.96 L370,648.47 L370.7,650.37 L371.4,651.32 L372.1,652.58 L372.8,657.2 L373.5,660.14 L374.2,662.31 L374.9,665.18 L375.6,667.75 L376.3,668.51 L377,670.7 L377.7,671.07 L378.4,671.79 L379.1,671.03 L379.8,670.38 L380.5,669.58 L381.2,671.29 L381.9,671.74 L382.6,671.91 L383.3,668.91 L384,666.53 L384.7,665.48 L385.4,666.25 L386.1,665.86 L386.8,667.57 L387.5,665.24 L388.2,663.74 L388.9,662.1 L389.6,660.83 L390.3,659.3 L391,659.03 L391.7,661.82 L392.4,662.6 L393.1,660.96 L393.8,659.98 L394.5,658.83 L395.2,655.96 L395.9,659.72 L396.6,660.71 L397.3,662.32 L398,664.81 L398.7,667.96 L399.4,667.59 L400.1,669.58 L400.8,670.84 L401.5,672.87 L402.2,676.25 L402.9,679.47 L403.6,682.74 L404.3,685.76 L405,687.55 L405.7,689.24 L406.4,690.22 L407.1,691.84 L407.8,693.41 L408.5,695.31 L409.2,696.29 L409.9,697.84 L410.6,698.8 L411.3,700.26 L412,701.84 L412.7,703.46 L413.4,704.34 L414.1,704.79 L414.8,705.13 L415.5,705.6 L416.2,705.92 L416.9,706.26 L417.6,706.52 L418.3,707.01 L419,707.17 L419.7,707.61 L420.4,707.9 L421.1,708.06 L421.8,708.33 L422.5,708.46 L423.2,708.56 L423.9,708.59 L424.6,708.66 L425.3,708.74 L426,708.89 L426.7,708.91 L427.4,709.02 L428.1,709.01 L428.8,709.07 L429.5,709.13 L430.2,709.1 L430.9,709.18 L431.6,709.18 L432.3,709.24 L433,709.26 L433.7,709.25 L434.4,709.33 L435.1,709.33 L435.8,709.33 L436.5,709.36 L437.2,709.42 L437.9,709.44 L438.6,709.46 L439.3,709.48 L440,709.53 L440.7,709.55 L441.4,709.61 L442.1,709.6 L442.8,709.66 L443.5,709.69 L445.1,709.7 L445.1,710.4 Z" fill="#404040" stroke="#111" stroke-width="0.9" stroke-linejoin="bevel"/>
<rect x="313.7" y="612.1" width="131.9" height="98.3" fill="none" stroke="#111" stroke-width="1"/>
<line x1="313.7" y1="612.1" x2="313.7" y2="710.9" stroke="#000" stroke-width="1.7"/>
<line x1="307.2" y1="613.6" x2="313.7" y2="613.6" stroke="#111" stroke-width="1"/>
<line x1="309.4" y1="617.48" x2="313.7" y2="617.48" stroke="#111" stroke-width="1"/>
<line x1="309.4" y1="621.37" x2="313.7" y2="621.37" stroke="#111" stroke-width="1"/>
<line x1="309.4" y1="625.25" x2="313.7" y2="625.25" stroke="#111" stroke-width="1"/>
<line x1="309.4" y1="629.14" x2="313.7" y2="629.14" stroke="#111" stroke-width="1"/>
<line x1="307.2" y1="633.02" x2="313.7" y2="633.02" stroke="#111" stroke-width="1"/>
<line x1="309.4" y1="636.9" x2="313.7" y2="636.9" stroke="#111" stroke-width="1"/>
<line x1="309.4" y1="640.79" x2="313.7" y2="640.79" stroke="#111" stroke-width="1"/>
<line x1="309.4" y1="644.67" x2="313.7" y2="644.67" stroke="#111" stroke-width="1"/>
<line x1="309.4" y1="648.56" x2="313.7" y2="648.56" stroke="#111" stroke-width="1"/>
<line x1="307.2" y1="652.44" x2="313.7" y2="652.44" stroke="#111" stroke-width="1"/>
<line x1="309.4" y1="656.32" x2="313.7" y2="656.32" stroke="#111" stroke-width="1"/>
<line x1="309.4" y1="660.21" x2="313.7" y2="660.21" stroke="#111" stroke-width="1"/>
<line x1="309.4" y1="664.09" x2="313.7" y2="664.09" stroke="#111" stroke-width="1"/>
<line x1="309.4" y1="667.98" x2="313.7" y2="667.98" stroke="#111" stroke-width="1"/>
<line x1="307.2" y1="671.86" x2="313.7" y2="671.86" stroke="#111" stroke-width="1"/>
<line x1="309.4" y1="675.74" x2="313.7" y2="675.74" stroke="#111" stroke-width="1"/>
<line x1="309.4" y1="679.63" x2="313.7" y2="679.63" stroke="#111" stroke-width="1"/>
<line x1="309.4" y1="683.51" x2="313.7" y2="683.51" stroke="#111" stroke-width="1"/>
<line x1="309.4" y1="687.4" x2="313.7" y2="687.4" stroke="#111" stroke-width="1"/>
<line x1="307.2" y1="691.28" x2="313.7" y2="691.28" stroke="#111" stroke-width="1"/>
<line x1="309.4" y1="695.16" x2="313.7" y2="695.16" stroke="#111" stroke-width="1"/>
<line x1="309.4" y1="699.05" x2="313.7" y2="699.05" stroke="#111" stroke-width="1"/>
<line x1="309.4" y1="702.93" x2="313.7" y2="702.93" stroke="#111" stroke-width="1"/>
<line x1="309.4" y1="706.82" x2="313.7" y2="706.82" stroke="#111" stroke-width="1"/>
<line x1="307.2" y1="710.7" x2="313.7" y2="710.7" stroke="#111" stroke-width="1"/>
<line x1="313.6" y1="710.4" x2="313.6" y2="715.4" stroke="#111" stroke-width="1"/>
<line x1="323.5" y1="710.4" x2="323.5" y2="713.7" stroke="#111" stroke-width="1"/>
<line x1="329.3" y1="710.4" x2="329.3" y2="713.7" stroke="#111" stroke-width="1"/>
<line x1="333.41" y1="710.4" x2="333.41" y2="713.7" stroke="#111" stroke-width="1"/>
<line x1="336.6" y1="710.4" x2="336.6" y2="713.7" stroke="#111" stroke-width="1"/>
<line x1="339.2" y1="710.4" x2="339.2" y2="713.7" stroke="#111" stroke-width="1"/>
<line x1="341.4" y1="710.4" x2="341.4" y2="713.7" stroke="#111" stroke-width="1"/>
<line x1="343.31" y1="710.4" x2="343.31" y2="713.7" stroke="#111" stroke-width="1"/>
<line x1="344.99" y1="710.4" x2="344.99" y2="713.7" stroke="#111" stroke-width="1"/>
<text transform="translate(304.58,729.28) scale(1,1.12)" font-size="11.2" fill="#111">10</text>
<text transform="translate(317.5,722.58) scale(1,1.12)" font-size="10.2" fill="#111">0</text>
<line x1="346.5" y1="710.4" x2="346.5" y2="715.4" stroke="#111" stroke-width="1"/>
<line x1="356.4" y1="710.4" x2="356.4" y2="713.7" stroke="#111" stroke-width="1"/>
<line x1="362.2" y1="710.4" x2="362.2" y2="713.7" stroke="#111" stroke-width="1"/>
<line x1="366.31" y1="710.4" x2="366.31" y2="713.7" stroke="#111" stroke-width="1"/>
<line x1="369.5" y1="710.4" x2="369.5" y2="713.7" stroke="#111" stroke-width="1"/>
<line x1="372.1" y1="710.4" x2="372.1" y2="713.7" stroke="#111" stroke-width="1"/>
<line x1="374.3" y1="710.4" x2="374.3" y2="713.7" stroke="#111" stroke-width="1"/>
<line x1="376.21" y1="710.4" x2="376.21" y2="713.7" stroke="#111" stroke-width="1"/>
<line x1="377.89" y1="710.4" x2="377.89" y2="713.7" stroke="#111" stroke-width="1"/>
<text transform="translate(337.48,729.28) scale(1,1.12)" font-size="11.2" fill="#111">10</text>
<text transform="translate(350.02,722.46) scale(1,1.12)" font-size="10.2" fill="#111">1</text>
<line x1="379.4" y1="710.4" x2="379.4" y2="715.4" stroke="#111" stroke-width="1"/>
<line x1="389.3" y1="710.4" x2="389.3" y2="713.7" stroke="#111" stroke-width="1"/>
<line x1="395.1" y1="710.4" x2="395.1" y2="713.7" stroke="#111" stroke-width="1"/>
<line x1="399.21" y1="710.4" x2="399.21" y2="713.7" stroke="#111" stroke-width="1"/>
<line x1="402.4" y1="710.4" x2="402.4" y2="713.7" stroke="#111" stroke-width="1"/>
<line x1="405" y1="710.4" x2="405" y2="713.7" stroke="#111" stroke-width="1"/>
<line x1="407.2" y1="710.4" x2="407.2" y2="713.7" stroke="#111" stroke-width="1"/>
<line x1="409.11" y1="710.4" x2="409.11" y2="713.7" stroke="#111" stroke-width="1"/>
<line x1="410.79" y1="710.4" x2="410.79" y2="713.7" stroke="#111" stroke-width="1"/>
<text transform="translate(370.38,729.28) scale(1,1.12)" font-size="11.2" fill="#111">10</text>
<text transform="translate(383.19,722.58) scale(1,1.12)" font-size="10.2" fill="#111">2</text>
<line x1="412.3" y1="710.4" x2="412.3" y2="715.4" stroke="#111" stroke-width="1"/>
<line x1="422.2" y1="710.4" x2="422.2" y2="713.7" stroke="#111" stroke-width="1"/>
<line x1="428" y1="710.4" x2="428" y2="713.7" stroke="#111" stroke-width="1"/>
<line x1="432.11" y1="710.4" x2="432.11" y2="713.7" stroke="#111" stroke-width="1"/>
<line x1="435.3" y1="710.4" x2="435.3" y2="713.7" stroke="#111" stroke-width="1"/>
<line x1="437.9" y1="710.4" x2="437.9" y2="713.7" stroke="#111" stroke-width="1"/>
<line x1="440.1" y1="710.4" x2="440.1" y2="713.7" stroke="#111" stroke-width="1"/>
<line x1="442.01" y1="710.4" x2="442.01" y2="713.7" stroke="#111" stroke-width="1"/>
<line x1="443.69" y1="710.4" x2="443.69" y2="713.7" stroke="#111" stroke-width="1"/>
<text transform="translate(403.28,729.28) scale(1,1.12)" font-size="11.2" fill="#111">10</text>
<text transform="translate(416.21,722.58) scale(1,1.12)" font-size="10.2" fill="#111">3</text>
<line x1="445.2" y1="710.4" x2="445.2" y2="715.4" stroke="#111" stroke-width="1"/>
<text transform="translate(436.18,729.28) scale(1,1.12)" font-size="11.2" fill="#111">10</text>
<text transform="translate(449.27,722.46) scale(1,1.12)" font-size="10.2" fill="#111">4</text>
<text transform="translate(303.3,613.6) rotate(-90)" font-size="11.5" text-anchor="middle" fill="#111">200</text>
<text transform="translate(303.3,708.2) rotate(-90)" font-size="11.5" text-anchor="middle" fill="#111">0</text>
<line x1="314.7" y1="634" x2="380.4" y2="634" stroke="#111" stroke-width="1.1"/>
<line x1="314.9" y1="622.5" x2="314.9" y2="647.6" stroke="#000" stroke-width="1.6"/>
<line x1="380.4" y1="622.5" x2="380.4" y2="649" stroke="#111" stroke-width="1.2"/>
<line x1="380.4" y1="637.6" x2="425.5" y2="637.6" stroke="#111" stroke-width="1.1"/>
<line x1="425.5" y1="627.4" x2="425.5" y2="649" stroke="#111" stroke-width="1.2"/>
<text x="334.8" y="632.43" font-size="12.1" fill="#111">71%</text>
<text x="391.3" y="635.28" font-size="12.1" fill="#111">29%</text>
<text x="316.35" y="585.45" font-size="15" fill="#111">bortezomib / BDNF</text>
<text x="346.26" y="602.35" font-size="15" fill="#111">LY294002</text>
<text x="333.99" y="756" font-size="15" fill="#111">ANNEXIN V</text>
<text x="-0.08" y="514.6" font-size="28" font-weight="bold" fill="#111">E</text>
<line x1="57" y1="523.2" x2="57" y2="711.2" stroke="#8c8c8c" stroke-width="1.8"/>
<line x1="56.1" y1="710.5" x2="113.8" y2="710.5" stroke="#7a7a7a" stroke-width="1.4"/>
<text x="33.9" y="531.22" font-size="10.8" fill="#111">100</text>
<text x="39.94" y="576.36" font-size="10.8" fill="#111">75</text>
<text x="39.91" y="621.62" font-size="10.8" fill="#111">50</text>
<text x="39.94" y="667.12" font-size="10.8" fill="#111">25</text>
<text x="45.92" y="712.32" font-size="10.8" fill="#111">0</text>
<rect x="64.7" y="524.4" width="9.7" height="185.9" fill="url(#hsE)" stroke="#333" stroke-width="1"/>
<rect x="78" y="605.1" width="9.8" height="105.2" fill="#000"/>
<line x1="82.9" y1="605.1" x2="82.9" y2="589.2" stroke="#1a1a1a" stroke-width="1.2"/>
<line x1="78.3" y1="589.2" x2="87.5" y2="589.2" stroke="#1a1a1a" stroke-width="1.2"/>
<rect x="91.2" y="621" width="9.6" height="89.3" fill="#fff" stroke="#888" stroke-width="1"/>
<line x1="95.7" y1="621" x2="95.7" y2="613.5" stroke="#1a1a1a" stroke-width="1.2"/>
<line x1="91.3" y1="613.5" x2="100.1" y2="613.5" stroke="#1a1a1a" stroke-width="1.2"/>
<rect x="104.7" y="569.7" width="9" height="140.6" fill="url(#dB)" stroke="#888" stroke-width="1"/>
<line x1="104.7" y1="569.7" x2="113.7" y2="569.7" stroke="#111" stroke-width="1"/>
<line x1="109" y1="569.7" x2="109" y2="538.4" stroke="#1a1a1a" stroke-width="1.2"/>
<line x1="104.2" y1="538.4" x2="113.8" y2="538.4" stroke="#1a1a1a" stroke-width="1.2"/>
<path d="M82.7,580.1V585.9M80.19,581.55L85.21,584.45M80.19,584.45L85.21,581.55" stroke="#333" stroke-width="1.45" fill="none"/>
<path d="M95.6,602.9V608.7M93.09,604.35L98.11,607.25M93.09,607.25L98.11,604.35" stroke="#333" stroke-width="1.45" fill="none"/>
<rect x="125.7" y="572.4" width="6.6" height="8.9" fill="url(#hsE)" stroke="#888" stroke-width="1"/>
<rect x="125.2" y="588.1" width="7.5" height="9.2" fill="#000"/>
<rect x="125.7" y="604.2" width="6.6" height="8.4" fill="#fff" stroke="#999" stroke-width="1"/>
<rect x="125.7" y="619.7" width="6.6" height="8.9" fill="#fff" stroke="#999" stroke-width="1"/>
<line x1="125.8" y1="628.6" x2="132.4" y2="620.2" stroke="#000" stroke-width="2.2"/>
<text x="136.23" y="582.5" font-size="15.1" fill="#111">b (bortezomib)</text>
<text x="136.23" y="598.1" font-size="15.1" fill="#111">b &amp; IGF</text>
<text x="136.23" y="613.7" font-size="15.1" fill="#111">b &amp; BDNF</text>
<text x="136.23" y="629.2" font-size="15.1" fill="#111">b &amp; BDNF &amp; LY</text>
<text transform="translate(14.3,677.25) rotate(-90)" font-size="15.3" fill="#111">annexin V positive</text>
<text transform="translate(31.6,660.15) rotate(-90)" font-size="15.3" fill="#111">(% of control)</text>
</svg>
</body></html>
